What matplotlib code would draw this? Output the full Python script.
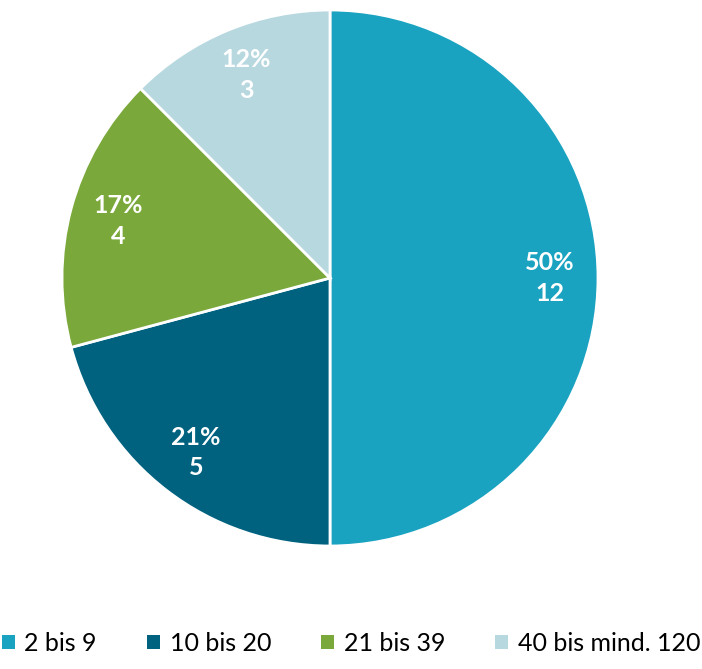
import matplotlib
matplotlib.use("Agg")
import matplotlib.pyplot as plt

# Daten
kategorien = ["2 bis 9", "10 bis 20", "21 bis 39", "40 bis mind. 120"]
anzahl = [12, 5, 4, 3]
farben = ["#1aa3c0", "#00627f", "#7aa83a", "#b8d8e0"]

plt.rcParams['font.family'] = ['Lato', 'DejaVu Sans']

fig = plt.figure(figsize=(7.02, 6.69), dpi=100)
ax = fig.add_axes([62 / 702, 1 - 546 / 669, 536 / 702, 536 / 669])

gesamt = sum(anzahl)
beschriftung = [f"{round(v / gesamt * 100)}%\n{v}" for v in anzahl]

wedges, texts = ax.pie(
    anzahl, colors=farben, startangle=90, counterclock=False,
    labels=beschriftung, labeldistance=0.82,
    wedgeprops=dict(edgecolor="white", linewidth=2),
    textprops=dict(color="white", fontsize=18, fontweight="bold",
                   ha="center", va="center", linespacing=1.4),
)
for t in texts:
    t.set_horizontalalignment("center")
ax.set_xlim(-1, 1)
ax.set_ylim(-1, 1)
ax.set_aspect("equal")

fig.legend(wedges, kategorien, loc="lower center", bbox_to_anchor=(0.5, -0.012),
           ncol=4, frameon=False, fontsize=18, handlelength=0.5, handleheight=0.5,
           handletextpad=0.4, columnspacing=2.0)
for h in fig.legends[0].legend_handles:
    h.set_edgecolor("none")

fig.savefig("out.png", dpi=100)
